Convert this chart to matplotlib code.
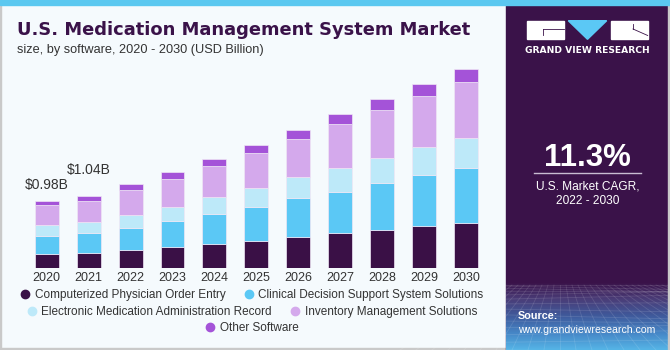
import numpy as np
import matplotlib
matplotlib.use('Agg')
import matplotlib.pyplot as plt
from matplotlib.lines import Line2D
from matplotlib.patches import Rectangle, Polygon
from matplotlib.colors import LinearSegmentedColormap

# chart values (USD Billion)
years = ['2020', '2021', '2022', '2023', '2024', '2025', '2026', '2027', '2028', '2029', '2030']
cpoe = [0.200, 0.218, 0.267, 0.306, 0.349, 0.400, 0.456, 0.510, 0.557, 0.606, 0.655]
cdss = [0.270, 0.290, 0.316, 0.383, 0.441, 0.495, 0.558, 0.601, 0.680, 0.748, 0.805]
emar = [0.150, 0.165, 0.194, 0.200, 0.238, 0.268, 0.306, 0.345, 0.364, 0.408, 0.432]
inventory = [0.290, 0.306, 0.354, 0.412, 0.451, 0.510, 0.559, 0.640, 0.699, 0.742, 0.815]
other = [0.067, 0.068, 0.087, 0.097, 0.102, 0.116, 0.135, 0.146, 0.160, 0.175, 0.189]

series_names = ['Computerized Physician Order Entry', 'Clinical Decision Support System Solutions',
                'Electronic Medication Administration Record', 'Inventory Management Solutions',
                'Other Software']
series_colors = ['#3a1046', '#5bc8f5', '#bde9f9', '#d4a9ec', '#a453d8']
value_labels = ['$0.98B', '$1.04B']

cagr_text = '11.3%'

W, H = 670, 350
fig = plt.figure(figsize=(6.7, 3.5), dpi=100)

# background layer in pixel coordinates
bg = fig.add_axes([0, 0, 1, 1])
bg.set_xlim(0, W)
bg.set_ylim(H, 0)
bg.axis('off')
bg.add_patch(Rectangle((0, 0), W, H, color='#f5fafd', zorder=0))
bg.add_patch(Rectangle((0, 0), 1.2, H, color='#c9c9c9', zorder=1))
bg.add_patch(Rectangle((0, H - 2), 506, 2, color='#c9c9c9', zorder=1))
bg.add_patch(Rectangle((506, 0), W - 506, H, color='#3a1249', zorder=1))
bg.add_patch(Rectangle((0, 0), W, 4.5, color='#5bc8f0', zorder=5))

# bottom gradient of the side panel
grad = np.linspace(0, 1, 100).reshape(-1, 1)
cmap = LinearSegmentedColormap.from_list('panel', ['#3a1249', '#4a3d78', '#3f5a9c', '#4686c6', '#55b4e6'])
bg.imshow(grad, cmap=cmap, extent=(506, W, 350, 282), aspect='auto', zorder=2)
# faint perspective mesh
for k in range(14):
    yy = 285 + 65 * (k / 13) ** 1.6
    bg.plot([506, W], [yy, yy + 4 * np.sin(k)], color='white', alpha=0.12, lw=0.6, zorder=3)
for k in range(-10, 24):
    x_top = 560 + k * 6
    x_bot = 560 + k * 16
    bg.plot([x_top, x_bot], [285, 350], color='white', alpha=0.12, lw=0.6, zorder=3)
bg.add_patch(Rectangle((W - 2, 0), 2, H, color='#c9c9c9', zorder=4))

# logo
bg.add_patch(Rectangle((527.3, 20.7), 37, 18.6, color='white', zorder=4))
bg.plot([543, 564.3], [29, 29], color='#3a1249', lw=0.6, zorder=5)
bg.plot([543, 543], [29, 35], color='#3a1249', lw=0.6, zorder=5)
bg.add_patch(Polygon([(568.3, 20.7), (606.7, 20.7), (587.5, 39.3)], color='#5bc8f5', zorder=4))
bg.add_patch(Rectangle((611, 20.7), 36.7, 18.6, color='white', zorder=4))
bg.plot([633, 647.7], [29, 35.5], color='#3a1249', lw=0.6, zorder=5)
bg.plot([633, 633], [29, 24], color='#3a1249', lw=0.6, zorder=5)
bg.text(587.5, 50.7, 'GRAND VIEW RESEARCH', color='white', fontsize=6.6, fontweight='bold',
        family='DejaVu Sans', ha='center', va='center', zorder=6)

# CAGR block
bg.text(587.5, 165.5, cagr_text, color='white', fontsize=22.5, fontweight='bold',
        family='Liberation Sans', ha='center', va='baseline', zorder=6)
bg.plot([534, 640.7], [173.3, 173.3], color='#c8bcd2', lw=1.0, zorder=6)
bg.text(587.5, 186.7, 'U.S. Market CAGR,', color='white', fontsize=8.6,
        family='Liberation Sans', ha='center', va='center', zorder=6)
bg.text(587.5, 201, '2022 - 2030', color='white', fontsize=8.6,
        family='Liberation Sans', ha='center', va='center', zorder=6)
bg.text(517.7, 316, 'Source:', color='white', fontsize=7.8, fontweight='bold',
        family='Liberation Sans', ha='left', va='center', zorder=6)
bg.text(517.7, 330, 'www.grandviewresearch.com', color='white', fontsize=7.6,
        family='Liberation Sans', ha='left', va='center', zorder=6)

# titles
fig.text(17 / W, 1 - 35 / H, 'U.S. Medication Management System Market', color='#3a1249',
         fontsize=12.9, fontweight='bold', family='DejaVu Sans', ha='left', va='baseline')
fig.text(17 / W, 1 - 53 / H, 'size, by software, 2020 - 2030 (USD Billion)', color='#333333',
         fontsize=9.2, family='Liberation Sans', ha='left', va='baseline')

# chart
px_per_unit = 68.7
ax = fig.add_axes([0, 82 / H, 506 / W, 208 / H])
ax.patch.set_alpha(0)
x = np.arange(len(years))
bottom = np.zeros(len(years))
for vals, col in zip([cpoe, cdss, emar, inventory, other], series_colors):
    ax.bar(x, vals, width=0.57, bottom=bottom, color=col, edgecolor='#efe6f5', linewidth=0.5, zorder=3)
    bottom += np.array(vals)
ax.set_xlim(-1.114, 10.954)
ax.set_ylim(0, 208 / px_per_unit)
ax.set_xticks(x)
ax.set_xticklabels(years, fontsize=9, family='Liberation Sans', color='#333333')
ax.tick_params(length=0, pad=3, axis='x')
ax.set_yticks([])
for s in ax.spines.values():
    s.set_visible(False)

label_offsets = [15.7 / px_per_unit, 26 / px_per_unit]
for i, txt in enumerate(value_labels):
    ax.text(x[i], bottom[i] + label_offsets[i], txt, ha='center', va='center', fontsize=10,
            family='Liberation Sans', color='#333333')

# legend, three centred rows
handles = [Line2D([], [], marker='o', linestyle='', markersize=6, color=c) for c in series_colors]
rows = [[0, 1], [2, 3], [4]]
row_y = [295, 311.7, 327.7]
for idx, yy in zip(rows, row_y):
    leg = fig.legend([handles[i] for i in idx], [series_names[i] for i in idx], loc='center',
                     bbox_to_anchor=(252 / W, 1 - yy / H), ncol=len(idx), frameon=False,
                     prop={'family': 'Liberation Sans', 'size': 8.5}, handlelength=0.8,
                     handletextpad=0.4, columnspacing=1.6, borderpad=0, borderaxespad=0)
    for t in leg.get_texts():
        t.set_color('#333333')

fig.savefig('out.png', dpi=100)
